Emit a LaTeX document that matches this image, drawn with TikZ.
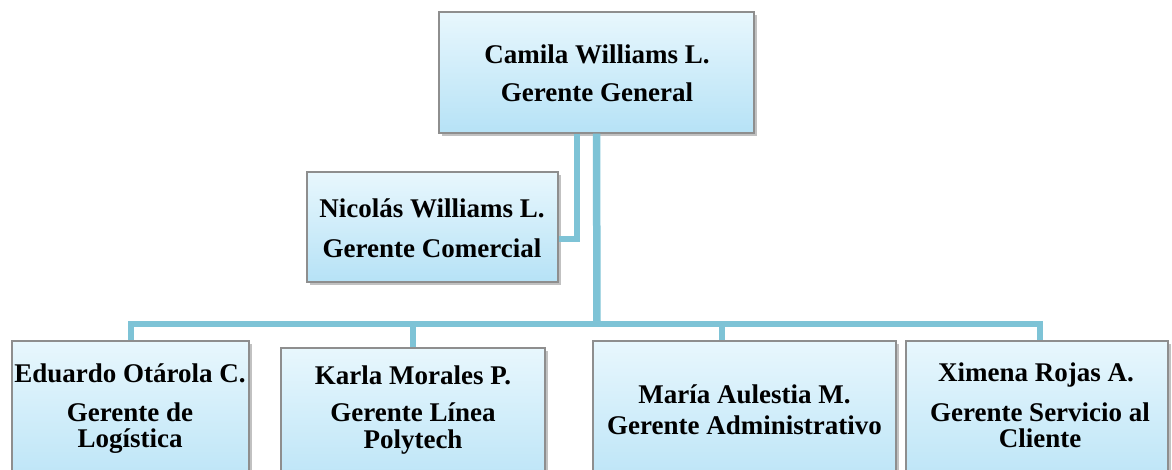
\documentclass[tikz,border=0pt]{standalone}
\usepackage{fontspec}
\setmainfont{Liberation Serif}
\usetikzlibrary{shadows}
\definecolor{conn}{HTML}{7EC3D6}
\definecolor{boxtop}{HTML}{E8F7FD}
\definecolor{boxbot}{HTML}{B6E2F6}
\definecolor{boxline}{HTML}{8E8E8E}
\tikzset{
  orgbox/.style={draw=boxline, line width=1.4pt, top color=boxtop, bottom color=boxbot,
    rectangle, inner sep=0pt,
    drop shadow={shadow xshift=2.5pt, shadow yshift=-3pt, opacity=0.35, fill=black!70}},
  txt/.style={anchor=base, inner sep=0pt, font=\fontsize{27}{30}\selectfont\bfseries},
  link/.style={draw=conn, line width=6pt, line join=miter},
  trunk/.style={draw=conn, line width=7.5pt}
}
\begin{document}
\begin{tikzpicture}[x=1pt,y=-1pt]
\useasboundingbox (0,0) rectangle (1172,469);
% boxes
\node[orgbox, minimum width=315pt, minimum height=121pt] (top) at (596.5,72.5) {};
\node[orgbox, minimum width=251pt, minimum height=110pt] (nico) at (432.5,227) {};
\node[orgbox, minimum width=237pt, minimum height=160pt] (b1) at (130.5,421) {};
\node[orgbox, minimum width=264pt, minimum height=153pt] (b2) at (413,424.5) {};
\node[orgbox, minimum width=303pt, minimum height=160pt] (b3) at (744.5,421) {};
\node[orgbox, minimum width=262pt, minimum height=160pt] (b4) at (1037,421) {};
% junction coordinates
\coordinate (j) at (597,324);
\coordinate (k) at (577,239);
\coordinate (d3) at (722,324);
\coordinate (d4) at (1040,324);
% connectors
\draw[link, line width=5.5pt] ([xshift=-19.5pt]top.south) -- ([xshift=-19.5pt]top.south |- k) -- (nico.east |- k);
\draw[link] (b1.north) -- (b1.north |- j) -- (d4) -- (d4 |- b4.north);
\draw[link] (b2.north |- j) -- (b2.north);
\draw[link] (d3) -- (d3 |- b3.north);
\draw[trunk] (top.south) -- (j);
% texts
\node[txt] (t1a) at (597,63) {Camila Williams L.};
\node[txt] (t1b) at (597,101) {Gerente General};
\node[txt] (t2a) at (432,217) {Nicolás Williams L.};
\node[txt] (t2b) at (432,257) {Gerente Comercial};
\node[txt] (t3a) at (130,382) {Eduardo Otárola C.};
\node[txt] (t3b) at (130,421) {Gerente de};
\node[txt] (t3c) at (130,447) {Logística};
\node[txt] (t4a) at (413,384) {Karla Morales P.};
\node[txt] (t4b) at (413,421) {Gerente Línea};
\node[txt] (t4c) at (413,448) {Polytech};
\node[txt] (t5a) at (744.5,403) {María Aulestia M.};
\node[txt] (t5b) at (744.5,434) {Gerente Administrativo};
\node[txt] (t6a) at (1036,381) {Ximena Rojas A.};
\node[txt] (t6b) at (1040,421) {Gerente Servicio al};
\node[txt] (t6c) at (1040,447) {Cliente};
\end{tikzpicture}
\end{document}
